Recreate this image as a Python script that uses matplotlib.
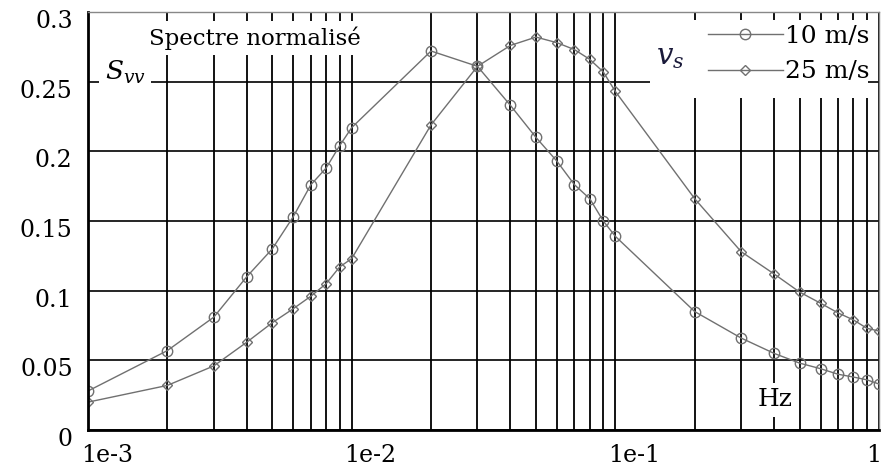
import matplotlib
matplotlib.use("Agg")
import matplotlib.pyplot as plt
import matplotlib.transforms as mtransforms
from matplotlib.patches import Rectangle
from matplotlib.ticker import LogLocator, NullFormatter

plt.rcParams["font.family"] = ["DejaVu Serif"]
plt.rcParams["mathtext.fontset"] = "dejavuserif"

# frequencies (Hz) of the marked points
freq_hz = [0.001, 0.002, 0.003, 0.004, 0.005, 0.006, 0.007, 0.008, 0.009,
           0.01, 0.02, 0.03, 0.04, 0.05, 0.06, 0.07, 0.08, 0.09,
           0.1, 0.2, 0.3, 0.4, 0.5, 0.6, 0.7, 0.8, 0.9,
           1.0]
# normalised spectrum, v_s = 10 m/s
spectre_10 = [0.028, 0.057, 0.081, 0.110, 0.130, 0.153, 0.176, 0.188, 0.204,
              0.217, 0.272, 0.261, 0.233, 0.210, 0.193, 0.176, 0.166, 0.150,
              0.139, 0.085, 0.066, 0.055, 0.048, 0.044, 0.040, 0.038, 0.036,
              0.033]
# normalised spectrum, v_s = 25 m/s
spectre_25 = [0.020, 0.032, 0.046, 0.063, 0.077, 0.087, 0.096, 0.105, 0.117,
              0.123, 0.219, 0.261, 0.276, 0.282, 0.278, 0.273, 0.266, 0.257,
              0.243, 0.166, 0.128, 0.112, 0.099, 0.091, 0.084, 0.079, 0.073,
              0.071]

series_labels = ["10 m/s", "25 m/s"]
x_ticks = [1e-3, 1e-2, 1e-1, 1.0]
x_tick_labels = ["1e-3", "1e-2", "1e-1", "1"]
y_ticks = [0, 0.05, 0.1, 0.15, 0.2, 0.25, 0.3]
y_tick_labels = ["0", "0.05", "0.1", "0.15", "0.2", "0.25", "0.3"]

W, H = 883, 466
fig = plt.figure(figsize=(W / 100, H / 100), dpi=100)
ax = fig.add_axes([88 / W, 36 / H, 791 / W, 418 / H])

line_col = "#707070"
ax.plot(freq_hz, spectre_10, color=line_col, lw=1.0, marker="o", ms=7.5,
        mfc="none", mec=line_col, mew=1.0, label=series_labels[0], zorder=2)
ax.plot(freq_hz, spectre_25, color=line_col, lw=1.0, marker="D", ms=5.5,
        mfc="none", mec=line_col, mew=1.0, label=series_labels[1], zorder=2)

ax.set_xscale("log")
ax.set_xlim(1e-3, 1)
ax.set_ylim(0, 0.3)
ax.set_xticks(x_ticks, labels=x_tick_labels)
ax.xaxis.set_minor_locator(LogLocator(base=10, subs=range(2, 10)))
ax.xaxis.set_minor_formatter(NullFormatter())
ax.set_yticks(y_ticks, labels=y_tick_labels)
ax.tick_params(which="both", length=0, labelsize=17)
ax.tick_params(axis="y", pad=11)
ax.tick_params(axis="x", pad=10)

ax.grid(True, which="both", axis="x", color="black", lw=1.3)
ax.grid(True, which="major", axis="y", color="black", lw=1.2)

for side in ("left", "bottom"):
    ax.spines[side].set_linewidth(2.0)
    ax.spines[side].set_color("black")
for side in ("top", "right"):
    ax.spines[side].set_linewidth(1.0)
    ax.spines[side].set_color("#888888")

# shift tick labels like in the original
for lab in ax.get_yticklabels():
    lab.set_transform(lab.get_transform() +
                      mtransforms.ScaledTranslation(0, -7 / 100, fig.dpi_scale_trans))
for lab, txt in zip(ax.get_xticklabels(), x_tick_labels):
    dx = -5 if txt == "1" else 19
    lab.set_transform(lab.get_transform() +
                      mtransforms.ScaledTranslation(dx / 100, 0, fig.dpi_scale_trans))

white = dict(facecolor="white", edgecolor="none", pad=4)
ax.text(0.211, 0.938, "Spectre normalisé", transform=ax.transAxes, fontsize=16.5,
        ha="center", va="center", bbox=white, zorder=2.2)
ax.text(0.047, 0.856, r"$S_{vv}$", transform=ax.transAxes, fontsize=19,
        ha="center", va="center", bbox=white, zorder=2.2)
ax.text(0.8685, 0.072, "Hz", transform=ax.transAxes, fontsize=18,
        ha="center", va="center", bbox=white, zorder=2.2)

# legend area
ax.add_patch(Rectangle((0.7105, 0.794), 0.2755, 0.187, transform=ax.transAxes,
                       facecolor="white", edgecolor="none", zorder=4))
ax.text(0.736, 0.892, r"$v_s$", transform=ax.transAxes, fontsize=21,
        ha="center", va="center", color="#1a1a3a", zorder=6)
ax.legend(loc="upper right", bbox_to_anchor=(0.9886, 0.969), frameon=False,
          fontsize=18, handlelength=3.0, handletextpad=0.1, labelspacing=0.5,
          borderpad=0, borderaxespad=0, numpoints=1)

fig.savefig("out.png", dpi=100)
